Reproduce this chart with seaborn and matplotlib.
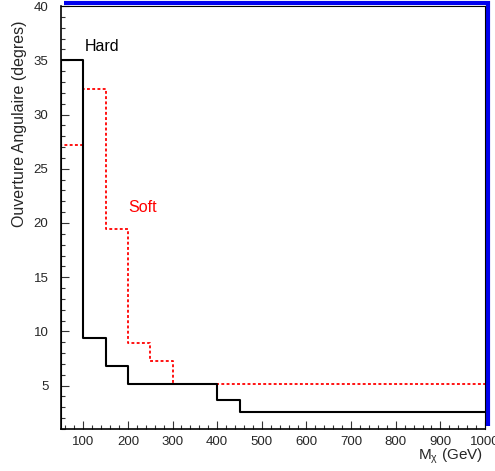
import numpy as np
import pandas as pd
import matplotlib
matplotlib.use("Agg")
import matplotlib.pyplot as plt
import matplotlib.transforms as mtransforms
from matplotlib.ticker import MultipleLocator
import seaborn as sns

# Opening angle vs. mass, binned histograms (bin edges in GeV, heights in degrees)
hard_edges = [50, 100, 150, 200, 400, 450, 1000]
hard_values = [35.0, 9.35, 6.83, 5.15, 3.65, 2.57]

soft_edges = [50, 100, 150, 200, 250, 300, 1000]
soft_values = [27.15, 32.4, 19.45, 8.9, 7.3, 5.15]

x_ticks = [100, 200, 300, 400, 500, 600, 700, 800, 900, 1000]
y_ticks = [5, 10, 15, 20, 25, 30, 35, 40]

sns.set_style("ticks")
plt.rcParams["font.family"] = ["Liberation Sans", "DejaVu Sans"]
plt.rcParams["mathtext.fontset"] = "custom"
plt.rcParams["mathtext.rm"] = "Liberation Sans"
plt.rcParams["mathtext.it"] = "Liberation Sans"


def step_frame(edges, values, name, base=0.0):
    # outline of a histogram: rise from the baseline, one step per bin
    xs = [edges[0]] + list(edges)
    ys = [base] + list(values) + [values[-1]]
    return pd.DataFrame({"x": xs, "y": ys, "series": name})


hard = step_frame(hard_edges, hard_values, "Hard")
soft = step_frame(soft_edges, soft_values, "Soft")

fig = plt.figure(figsize=(4.95, 4.71), dpi=100)
ax = fig.add_axes([0.1232, 0.0892, 0.8566, 0.8978])

sns.lineplot(data=soft, x="x", y="y", sort=False, estimator=None, ax=ax,
             color="red", linewidth=1.3, linestyle=(0, (1.6, 1.3)),
             drawstyle="steps-post", legend=False)
sns.lineplot(data=hard, x="x", y="y", sort=False, estimator=None, ax=ax,
             color="black", linewidth=1.5, drawstyle="steps-post",
             legend=False)

ax.set_xlim(50, 1000)
ax.set_ylim(1, 40)
ax.set_xticks(x_ticks)
ax.set_xticklabels([str(v) for v in x_ticks])
ax.set_yticks(y_ticks)
ax.set_yticklabels([str(v) for v in y_ticks])
ax.xaxis.set_minor_locator(MultipleLocator(20))
ax.yaxis.set_minor_locator(MultipleLocator(1))
ax.tick_params(axis="both", which="major", direction="in", length=5.5,
               width=0.8, color="#333333", labelsize=9.5)
ax.tick_params(axis="both", which="minor", direction="in", length=2.9,
               width=0.8, color="#333333")
ax.tick_params(axis="y", which="major", pad=9)
ax.tick_params(axis="x", which="major", pad=5)

for side in ["left", "bottom"]:
    ax.spines[side].set_linewidth(1.2)
    ax.spines[side].set_color("black")
for side in ["top", "right"]:
    ax.spines[side].set_linewidth(0.8)
    ax.spines[side].set_color("black")

# raised blue frame along the top and right edges
shadow = mtransforms.offset_copy(ax.transAxes, fig=fig, x=3.0, y=3.0,
                                 units="dots")
ax.plot([0.0, 1.0, 1.0], [1.0, 1.0, 0.0], transform=shadow, clip_on=False,
        color="#0000ee", linewidth=3.0, solid_capstyle="butt",
        solid_joinstyle="miter")

ax.set_ylabel("Ouverture Angulaire (degres)", fontsize=11.5, loc="top")
ax.yaxis.set_label_coords(-0.080, 0.967)
ax.set_xlabel(r"M$_{\chi}$ (GeV)", fontsize=11, loc="right")
ax.xaxis.set_label_coords(0.995, -0.043)

ax.text(104, 35.9, "Hard", color="black", fontsize=11.5)
ax.text(201, 21.0, "Soft", color="red", fontsize=11.5)

fig.savefig("out.png", dpi=100)
